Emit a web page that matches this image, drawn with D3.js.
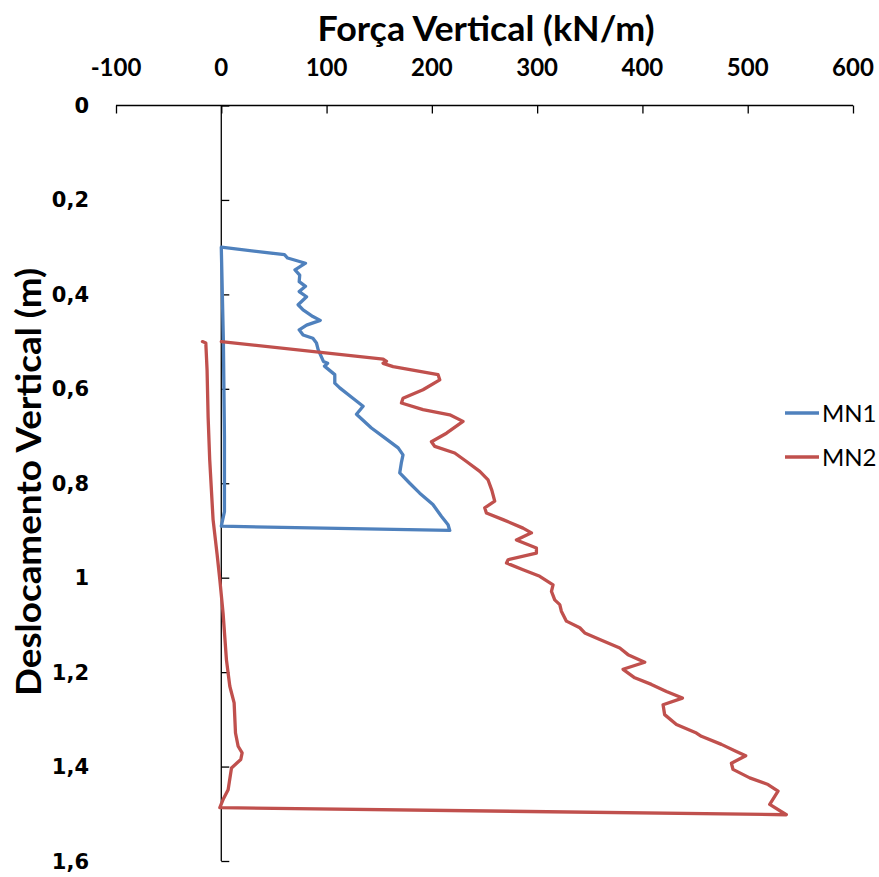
<!DOCTYPE html>
<html>
<head>
<meta charset="utf-8">
<script src="https://cdn.jsdelivr.net/npm/d3@7/dist/d3.min.js"></script>
<style>
  html, body { margin: 0; padding: 0; background: #fff; }
  svg { display: block; }
</style>
</head>
<body>
<div id="chart"></div>
<script>
// Vertical force (kN/m) versus vertical displacement (m) for MN1 and MN2.
const seriesNames = ["MN1", "MN2"];
const seriesColors = ["#4F81BD", "#C0504D"];

const mn1Force = [0, 60, 63, 80, 70, 74.5, 74, 80, 74, 81, 73, 77.7, 87, 94, 81, 74, 77.7, 87, 90.4, 92,
  97, 101, 98, 107.8, 107.8, 112.5, 125, 134.7, 128.4, 142.6, 155.3, 168, 172.6, 171, 169.5, 179,
  188.5, 201, 209, 215.4, 217, 0, 3, 3, 2, 0];
const mn1Disp = [0.300, 0.316, 0.323, 0.334, 0.348, 0.359, 0.373, 0.383, 0.394, 0.405, 0.422, 0.433,
  0.447, 0.455, 0.465, 0.475, 0.486, 0.493, 0.503, 0.517, 0.542, 0.546, 0.552, 0.570, 0.588, 0.598,
  0.620, 0.637, 0.654, 0.683, 0.704, 0.725, 0.740, 0.757, 0.778, 0.800, 0.821, 0.845, 0.870, 0.888,
  0.900, 0.891, 0.860, 0.700, 0.500, 0.300];

const mn2Force = [0, 153.7, 156.9, 153.7, 163.2, 205.9, 207.5, 191.6, 172.6, 171.1, 191.6, 217, 229.6,
  213.9, 199.6, 202.8, 221.7, 232.9, 245.5, 253.4, 257, 259.7, 250.2, 251.8, 267.6, 286.6, 294.6,
  280.3, 299.3, 299.3, 272.4, 270.9, 286.6, 302.5, 315.1, 313.6, 316.7, 321.5, 323, 327.8, 340.5,
  345.2, 359.5, 378.5, 386.3, 402.2, 381.6, 392.7, 408.5, 422.8, 438, 419.6, 421.1, 432.3, 451.3,
  456, 475, 489.2, 498.1, 484.5, 486, 501.9, 519.3, 528.8, 520.9, 536.7, -1.4, 1.7, 6.5, 9.7, 18.5,
  19.8, 16, 13.5, 12.2, 8.1, 4.9, 1.7, -1.4, -4, -7.8, -11, -12.5, -13.5, -14.7, -17.9];
const mn2Disp = [0.500, 0.537, 0.542, 0.546, 0.553, 0.570, 0.581, 0.602, 0.620, 0.630, 0.644, 0.655,
  0.669, 0.694, 0.712, 0.722, 0.736, 0.754, 0.775, 0.793, 0.815, 0.838, 0.852, 0.863, 0.877, 0.895,
  0.905, 0.920, 0.937, 0.948, 0.962, 0.969, 0.983, 0.997, 1.015, 1.029, 1.047, 1.057, 1.071, 1.092,
  1.106, 1.117, 1.131, 1.149, 1.163, 1.179, 1.194, 1.212, 1.226, 1.241, 1.255, 1.269, 1.290, 1.311,
  1.329, 1.336, 1.353, 1.368, 1.377, 1.393, 1.406, 1.424, 1.438, 1.452, 1.480, 1.502, 1.487, 1.470,
  1.449, 1.403, 1.385, 1.371, 1.357, 1.329, 1.265, 1.230, 1.174, 1.075, 1.004, 0.950, 0.877, 0.750,
  0.660, 0.560, 0.503, 0.500];

const xTicks = [-100, 0, 100, 200, 300, 400, 500, 600];
const xTickLabels = ["-100", "0", "100", "200", "300", "400", "500", "600"];
const yTicks = [0, 0.2, 0.4, 0.6, 0.8, 1.0, 1.2, 1.4, 1.6];
const yTickLabels = ["0", "0,2", "0,4", "0,6", "0,8", "1", "1,2", "1,4", "1,6"];
const xTitle = "Força Vertical (kN/m)";
const yTitle = "Deslocamento Vertical (m)";

const W = 879, H = 877;
const svg = d3.select("#chart").append("svg").attr("width", W).attr("height", H);

const x = d3.scaleLinear().domain([-100, 600]).range([116, 853]);
const y = d3.scaleLinear().domain([0, 1.6]).range([105.5, 861]);

const labelFont = "Lato, 'Open Sans', sans-serif";

// Top horizontal axis (force)
const xAxis = d3.axisTop(x).tickValues(xTicks).tickSize(-8).tickFormat("");
const gx = svg.append("g").attr("transform", `translate(0,${y(0)})`).call(xAxis);
gx.select(".domain").attr("d", `M${x(-100)},0H${x(600)}`);
gx.selectAll("path, line").attr("stroke", "#000").attr("stroke-width", 1.3);

svg.append("g").selectAll("text").data(xTicks).join("text")
  .attr("x", d => x(d)).attr("y", 76)
  .attr("text-anchor", "middle")
  .attr("font-family", labelFont).attr("font-weight", "bold").attr("font-size", 24)
  .attr("fill", "#000")
  .text((d, i) => xTickLabels[i]);

// Vertical axis through force = 0 (displacement)
const yAxis = d3.axisLeft(y).tickValues(yTicks).tickSize(-8).tickFormat("");
const gy = svg.append("g").attr("transform", `translate(${x(0)},0)`).call(yAxis);
gy.select(".domain").attr("d", `M0,${y(0)}V${y(1.6)}`);
gy.selectAll("path, line").attr("stroke", "#000").attr("stroke-width", 1.3);

svg.append("g").selectAll("text").data(yTicks).join("text")
  .attr("x", 89).attr("y", d => y(d)).attr("dy", "0.36em")
  .attr("text-anchor", "end")
  .attr("font-family", "'DejaVu Sans', sans-serif").attr("font-weight", "bold").attr("font-size", 21)
  .attr("fill", "#000")
  .text((d, i) => yTickLabels[i]);

// Axis titles
svg.append("text")
  .attr("x", 486).attr("y", 41)
  .attr("text-anchor", "middle")
  .attr("font-family", labelFont).attr("font-weight", "bold").attr("font-size", 34)
  .attr("textLength", 337).attr("lengthAdjust", "spacingAndGlyphs")
  .text(xTitle);

svg.append("text")
  .attr("transform", `translate(41,${482}) rotate(-90)`)
  .attr("text-anchor", "middle")
  .attr("font-family", labelFont).attr("font-weight", "bold").attr("font-size", 34)
  .attr("textLength", 428).attr("lengthAdjust", "spacingAndGlyphs")
  .text(yTitle);

// Series lines
const series = [
  { name: seriesNames[0], color: seriesColors[0], pts: mn1Force.map((f, i) => [f, mn1Disp[i]]) },
  { name: seriesNames[1], color: seriesColors[1], pts: mn2Force.map((f, i) => [f, mn2Disp[i]]) }
];

const line = d3.line().x(d => x(d[0])).y(d => y(d[1]));

svg.append("g").selectAll("path").data(series).join("path")
  .attr("d", d => line(d.pts))
  .attr("fill", "none")
  .attr("stroke", d => d.color)
  .attr("stroke-width", 3.3)
  .attr("stroke-linejoin", "round")
  .attr("stroke-linecap", "round");

// Legend
const legend = svg.append("g").selectAll("g").data(series).join("g")
  .attr("transform", (d, i) => `translate(785,${413 + i * 44})`);
legend.append("line")
  .attr("x1", 0).attr("x2", 34).attr("y1", 0).attr("y2", 0)
  .attr("stroke", d => d.color).attr("stroke-width", 3.3);
legend.append("text")
  .attr("x", 37).attr("y", 0).attr("dy", "0.36em")
  .attr("font-family", labelFont).attr("font-size", 24)
  .attr("fill", "#000")
  .text(d => d.name);
</script>
</body>
</html>
